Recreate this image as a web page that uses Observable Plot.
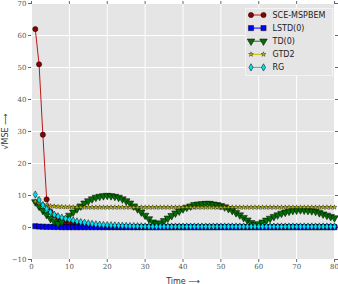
<!DOCTYPE html>
<html><head><meta charset="utf-8">
<script src="https://cdn.jsdelivr.net/npm/d3@7"></script>
<script src="https://cdn.jsdelivr.net/npm/@observablehq/plot@0.6"></script>
<style>
body{margin:0;background:#fff;}
#wrap{position:relative;width:338px;height:284px;}
#legend{position:absolute;left:245px;top:8px;}
</style></head><body><div id="wrap"></div>
<script>
const seriesNames = ["SCE-MSPBEM", "LSTD(0)", "TD(0)", "GTD2", "RG"];
const xTicks = [0, 10, 20, 30, 40, 50, 60, 70, 80];
const yTicks = [-10, 0, 10, 20, 30, 40, 50, 60, 70];

const sce = [
  62, 51, 29, 8.8, 5.0, 3.7, 2.4, 1.8, 1.5, 1.2,
  1.0, 0.85, 0.7, 0.6, 0.5, 0.45, 0.4, 0.35, 0.3, 0.3,
  0.25, 0.25, 0.25, 0.25, 0.25, 0.25, 0.25, 0.25, 0.25, 0.25,
  0.25, 0.25, 0.25, 0.25, 0.25, 0.25, 0.25, 0.25, 0.25, 0.25,
  0.25, 0.25, 0.25, 0.25, 0.25, 0.25, 0.25, 0.25, 0.25, 0.25,
  0.25, 0.25, 0.25, 0.25, 0.25, 0.25, 0.25, 0.25, 0.25, 0.25,
  0.25, 0.25, 0.25, 0.25, 0.25, 0.25, 0.25, 0.25, 0.25, 0.25,
  0.25, 0.25, 0.25, 0.25, 0.25, 0.25, 0.25, 0.25, 0.25, 0.25
];
const lstd = [
  0.4, 0.3, 0.25, 0.2, 0.2, 0.15, 0.15, 0.1, 0.1, 0.1,
  0.1, 0.1, 0.1, 0.1, 0.1, 0.1, 0.1, 0.1, 0.1, 0.1,
  0.1, 0.1, 0.1, 0.1, 0.1, 0.1, 0.1, 0.1, 0.1, 0.1,
  0.1, 0.1, 0.1, 0.1, 0.1, 0.1, 0.1, 0.1, 0.1, 0.1,
  0.1, 0.1, 0.1, 0.1, 0.1, 0.1, 0.1, 0.1, 0.1, 0.1,
  0.1, 0.1, 0.1, 0.1, 0.1, 0.1, 0.1, 0.1, 0.1, 0.1,
  0.1, 0.1, 0.1, 0.1, 0.1, 0.1, 0.1, 0.1, 0.1, 0.1,
  0.1, 0.1, 0.1, 0.1, 0.1, 0.1, 0.1, 0.1, 0.1, 0.1
];
const td = [
  8.0, 6.6, 5.3, 4.0, 2.8, 1.8, 1.2, 1.7, 2.7, 3.8,
  4.8, 5.8, 6.7, 7.6, 8.3, 8.9, 9.4, 9.7, 9.9, 10.0,
  9.9, 9.7, 9.4, 8.9, 8.3, 7.6, 6.7, 5.8, 4.8, 3.8,
  2.7, 1.7, 1.2, 1.4, 2.1, 2.9, 3.7, 4.5, 5.1, 5.8,
  6.3, 6.7, 7.1, 7.3, 7.4, 7.5, 7.5, 7.3, 7.1, 6.8,
  6.4, 5.9, 5.3, 4.6, 3.9, 3.1, 2.3, 1.5, 0.9, 1.15,
  1.65, 2.25, 2.85, 3.4, 3.9, 4.4, 4.75, 5.05, 5.3, 5.4,
  5.5, 5.4, 5.3, 5.2, 5.0, 4.6, 4.2, 3.8, 3.4, 3.0
];
const gtd2 = [
  8.2, 7.6, 7.2, 6.9, 6.7, 6.6, 6.5, 6.45, 6.4, 6.4,
  6.35, 6.35, 6.3, 6.3, 6.3, 6.3, 6.3, 6.3, 6.3, 6.3,
  6.3, 6.3, 6.3, 6.3, 6.3, 6.3, 6.3, 6.3, 6.3, 6.3,
  6.3, 6.3, 6.3, 6.3, 6.3, 6.3, 6.3, 6.3, 6.3, 6.3,
  6.3, 6.3, 6.3, 6.3, 6.3, 6.3, 6.3, 6.3, 6.3, 6.3,
  6.3, 6.3, 6.3, 6.3, 6.3, 6.3, 6.3, 6.3, 6.3, 6.3,
  6.3, 6.3, 6.3, 6.3, 6.3, 6.3, 6.3, 6.3, 6.3, 6.3,
  6.3, 6.3, 6.3, 6.3, 6.3, 6.3, 6.3, 6.3, 6.3, 6.3
];
const rg = [
  10.3, 8.6, 7.0, 5.8, 4.8, 4.0, 3.5, 3.1, 2.8, 2.5,
  2.2, 1.9, 1.7, 1.5, 1.3, 1.15, 1.0, 0.9, 0.8, 0.75,
  0.7, 0.65, 0.6, 0.55, 0.5, 0.47, 0.44, 0.41, 0.38, 0.35,
  0.3, 0.3, 0.3, 0.3, 0.3, 0.3, 0.3, 0.3, 0.3, 0.3,
  0.3, 0.3, 0.3, 0.3, 0.3, 0.3, 0.3, 0.3, 0.3, 0.3,
  0.3, 0.3, 0.3, 0.3, 0.3, 0.3, 0.3, 0.3, 0.3, 0.3,
  0.3, 0.3, 0.3, 0.3, 0.3, 0.3, 0.3, 0.3, 0.3, 0.3,
  0.3, 0.3, 0.3, 0.3, 0.3, 0.3, 0.3, 0.3, 0.3, 0.3
];

const styles = [
  {values: sce,  line: "#c01818", fill: "#8b0000", symbol: "circle",   r: 2.6, rotate: 0, sw: 0.5},
  {values: lstd, line: "#0000ff", fill: "#0000ff", symbol: "square",   r: 2.9, rotate: 0, sw: 0.5},
  {values: td,   line: "#008000", fill: "#007000", symbol: "triangle", r: 2.8, rotate: 180, sw: 0.5},
  {values: gtd2, line: "#bfbf00", fill: "#c8c800", symbol: "star",     r: 1.5, rotate: 0, sw: 0.4},
  {values: rg,   line: "#00d0e0", fill: "#00e0f0", symbol: "diamond",  r: 2.2, rotate: 0, sw: 0.5}
];

const seriesMarks = [];
styles.forEach((s, k) => {
  const data = s.values.map((v, i) => ({t: i + 1, v, name: seriesNames[k]}));
  seriesMarks.push(Plot.line(data, {x: "t", y: "v", stroke: s.line, strokeWidth: 1}));
  seriesMarks.push(Plot.dot(data, {x: "t", y: "v", symbol: s.symbol, r: s.r, fill: s.fill,
    stroke: "#000", strokeWidth: s.sw, rotate: s.rotate}));
});

const chart = Plot.plot({
  width: 338, height: 284,
  marginLeft: 31, marginRight: 4, marginTop: 3, marginBottom: 25,
  style: {background: "transparent", fontFamily: "DejaVu Serif", fontSize: "7px", color: "#555", overflow: "visible"},
  x: {domain: [0, 80]},
  y: {domain: [-10, 70]},
  marks: [
    Plot.frame({fill: "#e5e5e5"}),
    Plot.gridX(xTicks, {stroke: "#fff", strokeOpacity: 1, strokeWidth: 1}),
    Plot.gridY(yTicks, {stroke: "#fff", strokeOpacity: 1, strokeWidth: 1}),
    Plot.axisX(xTicks, {tickSize: 3, tickPadding: 2, stroke: "#666", fill: "#555",
      label: "Time ⟶", labelAnchor: "center", labelArrow: "none", labelOffset: 24}),
    Plot.axisX(xTicks, {anchor: "top", tickSize: 3, stroke: "#666", tickFormat: () => "", label: null}),
    Plot.axisY(yTicks, {tickSize: 3, tickPadding: 2, stroke: "#666", fill: "#555",
      label: "√MSE ⟶", labelAnchor: "center", labelArrow: "none", labelOffset: 29}),
    Plot.axisY(yTicks, {anchor: "right", tickSize: 3, stroke: "#666", tickFormat: () => "", label: null}),
    ...seriesMarks
  ]
});
const wrap = document.getElementById("wrap");
wrap.appendChild(chart);

// axis label font
d3.select(chart).selectAll('g[aria-label="x-axis label"] text, g[aria-label="y-axis label"] text')
  .attr("font-family", "DejaVu Sans").attr("font-size", 8).attr("fill", "#333");

// legend
const lw = 88, lh = 68, rowH = 13.1, row0 = 7;
const leg = d3.select(wrap).append("svg").attr("id", "legend").attr("width", lw).attr("height", lh);
leg.append("rect").attr("x", 0.5).attr("y", 0.5).attr("width", lw - 1).attr("height", lh - 1)
  .attr("fill", "#e5e5e5").attr("stroke", "#f4f4f4").attr("stroke-width", 1);
const symMap = {circle: d3.symbolCircle, square: d3.symbolSquare, triangle: d3.symbolTriangle, star: d3.symbolStar, diamond: d3.symbolDiamond};
styles.forEach((s, k) => {
  const y = row0 + k * rowH;
  const g = leg.append("g").attr("transform", `translate(0,${y})`);
  g.append("line").attr("x1", 6).attr("x2", 18.5).attr("y1", 0).attr("y2", 0).attr("stroke", s.line).attr("stroke-width", 1);
  const path = d3.symbol(symMap[s.symbol], Math.PI * s.r * s.r)();
  [6, 18.5].forEach(x => {
    g.append("path").attr("d", path).attr("transform", `translate(${x},0) rotate(${s.rotate})`)
      .attr("fill", s.fill).attr("stroke", "#000").attr("stroke-width", s.sw);
  });
  g.append("text").attr("x", 27.5).attr("y", 0).attr("dy", "0.35em").attr("font-family", "DejaVu Sans")
    .attr("font-size", 8).attr("fill", "#222").text(seriesNames[k]);
});
</script>
</body></html>
